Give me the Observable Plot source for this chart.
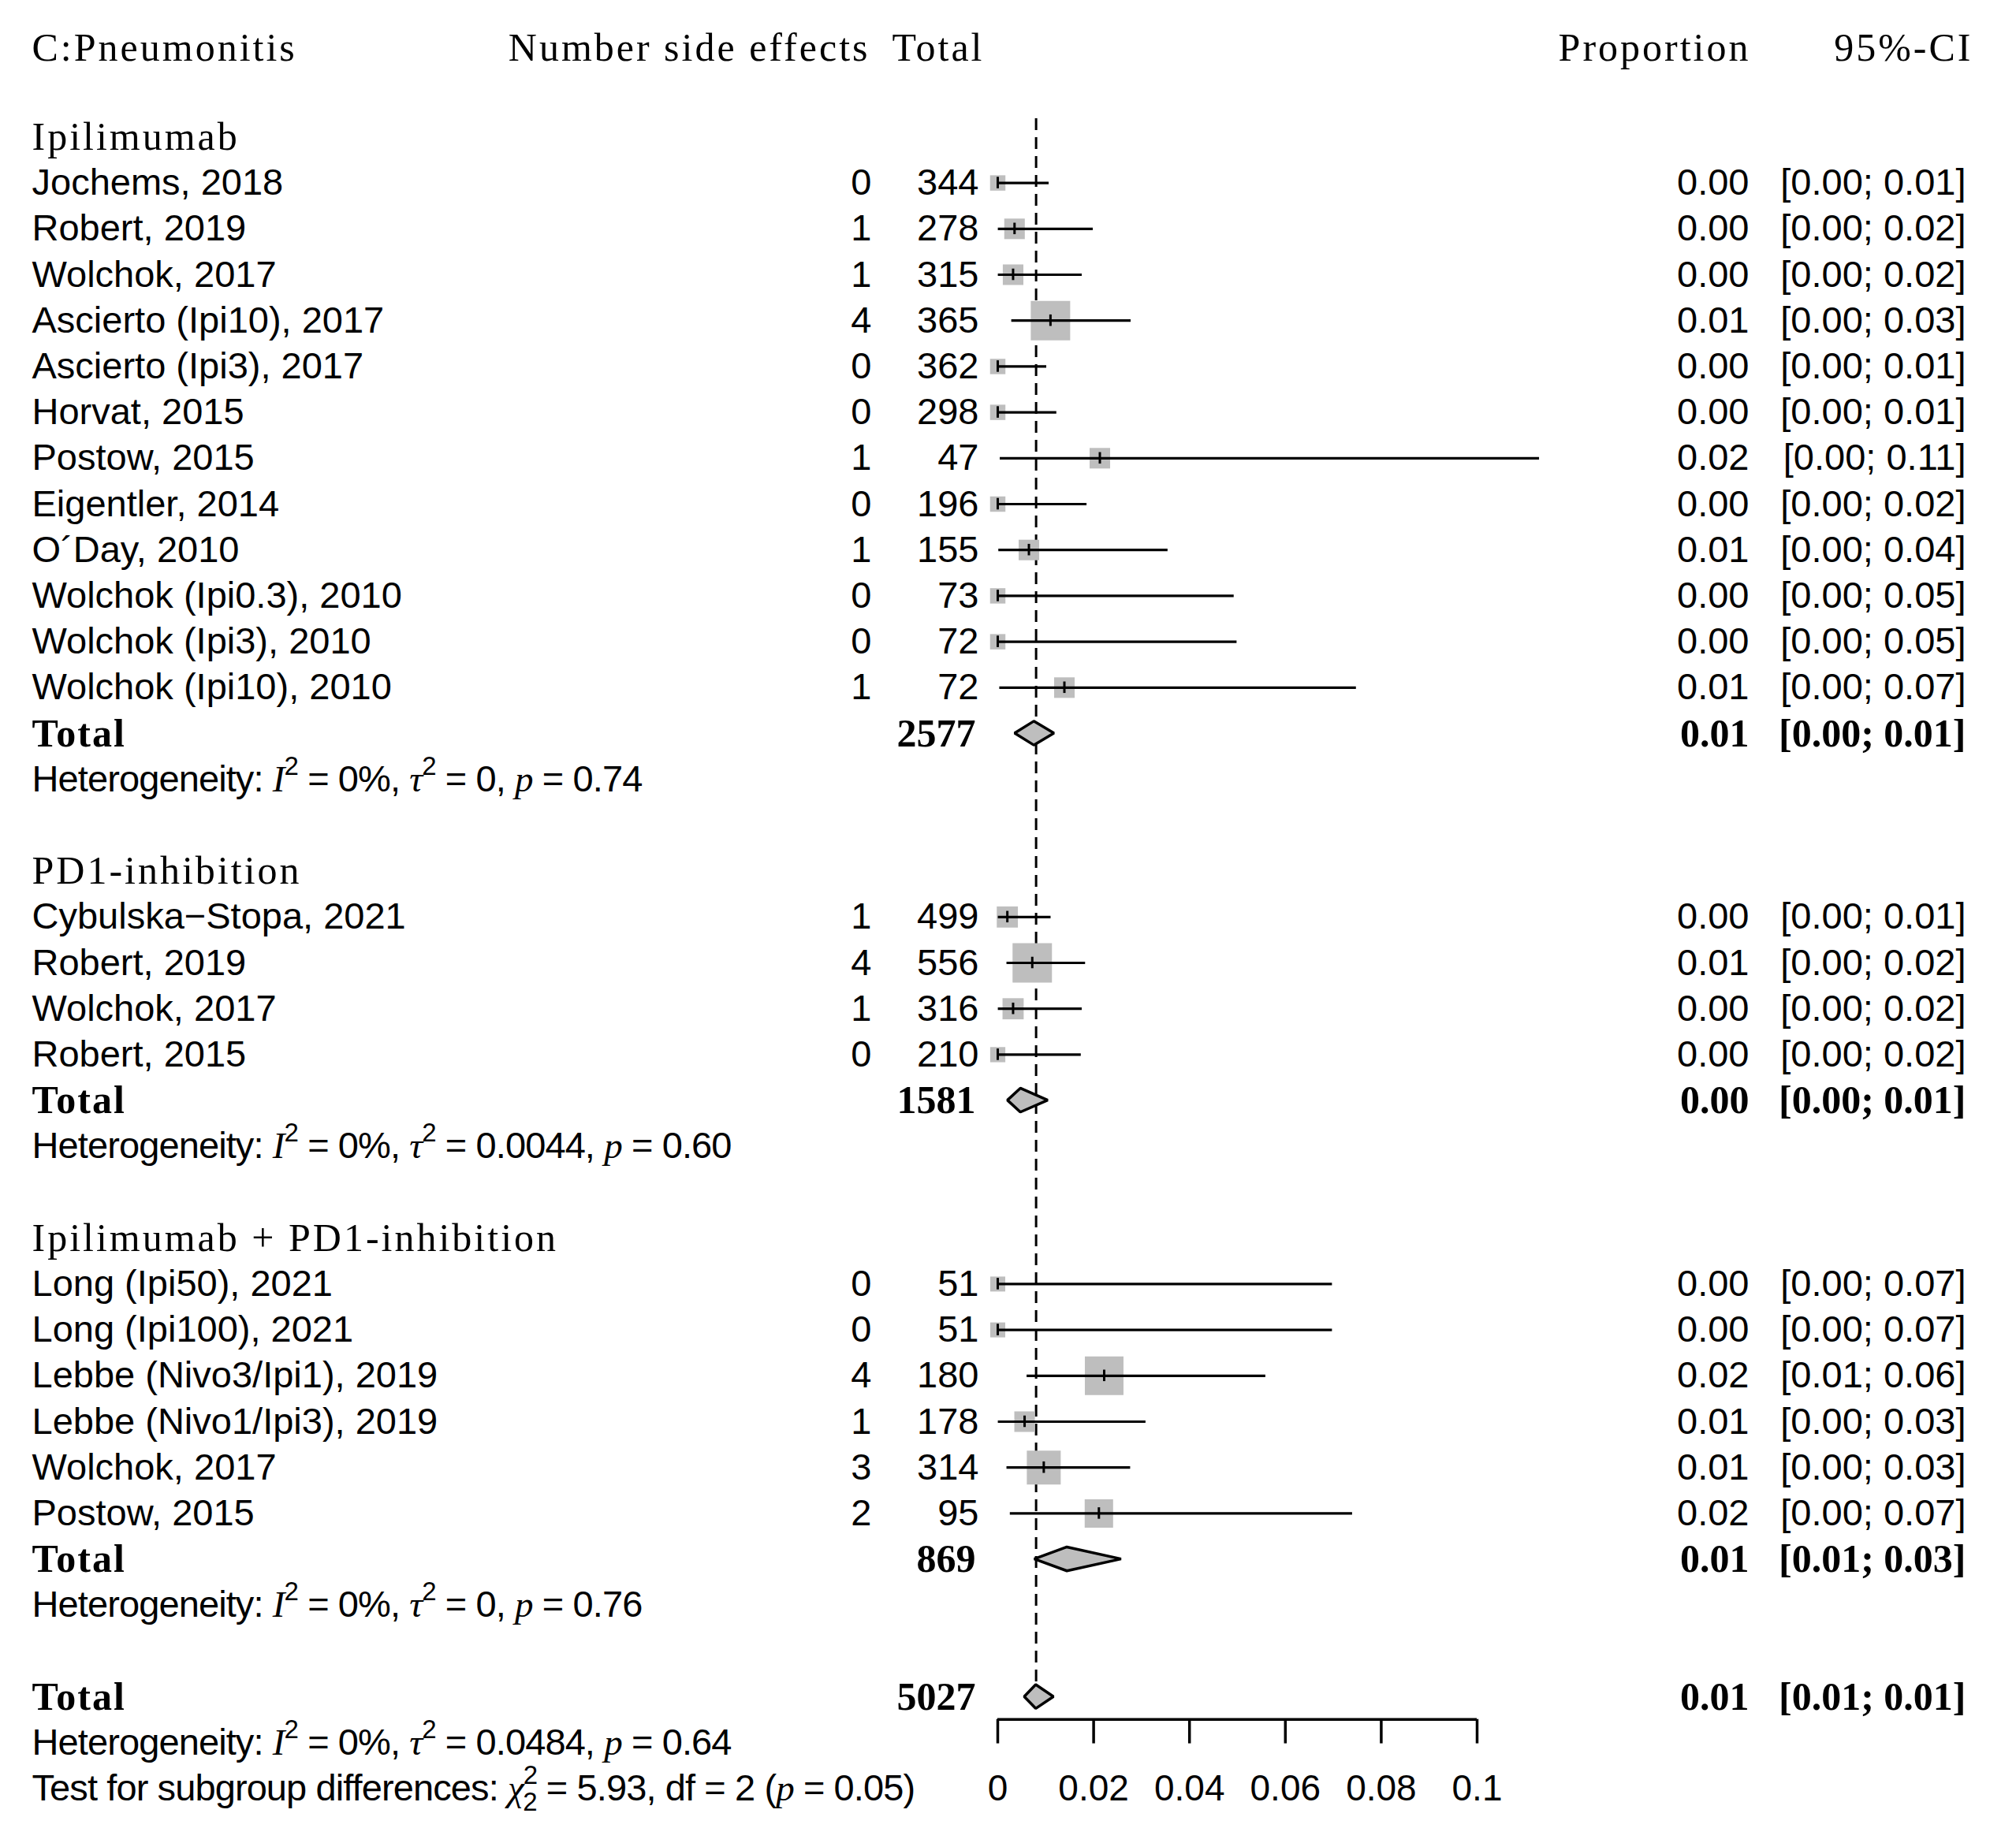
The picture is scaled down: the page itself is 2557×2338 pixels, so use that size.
<!DOCTYPE html>
<html>
<head>
<meta charset="utf-8">
<script src="https://cdn.jsdelivr.net/npm/d3@7"></script>
<script src="https://cdn.jsdelivr.net/npm/@observablehq/plot@0.6"></script>
<style>
  html, body { margin: 0; padding: 0; background: #fff; }
  #chart svg { display: block; }
</style>
</head>
<body>
<div id="chart"></div>
<script>
// ---------------- DATA ----------------
const title = "C:Pneumonitis";
const headerEvents = "Number side effects";
const headerTotal = "Total";
const headerProportion = "Proportion";
const headerCI = "95%-CI";
const summaryLabel = "Total";

const groupNames = ["Ipilimumab", "PD1-inhibition", "Ipilimumab + PD1-inhibition"];

const studyGroup = [0,0,0,0,0,0,0,0,0,0,0,0, 1,1,1,1, 2,2,2,2,2,2];
const studyLabels = [
  "Jochems, 2018", "Robert, 2019", "Wolchok, 2017", "Ascierto (Ipi10), 2017",
  "Ascierto (Ipi3), 2017", "Horvat, 2015", "Postow, 2015", "Eigentler, 2014",
  "O´Day, 2010", "Wolchok (Ipi0.3), 2010", "Wolchok (Ipi3), 2010", "Wolchok (Ipi10), 2010",
  "Cybulska−Stopa, 2021", "Robert, 2019", "Wolchok, 2017", "Robert, 2015",
  "Long (Ipi50), 2021", "Long (Ipi100), 2021", "Lebbe (Nivo3/Ipi1), 2019",
  "Lebbe (Nivo1/Ipi3), 2019", "Wolchok, 2017", "Postow, 2015"
];
const events = [0,1,1,4,0,0,1,0,1,0,0,1, 1,4,1,0, 0,0,4,1,3,2];
const totals = [344,278,315,365,362,298,47,196,155,73,72,72, 499,556,316,210, 51,51,180,178,314,95];
const proportion = [0,0.0035,0.0032,0.0110,0,0,0.0213,0,0.0065,0,0,0.0139,
                    0.0020,0.0072,0.0032,0, 0,0,0.0222,0.0056,0.0096,0.0211];
const lower = [0,0.0001,0.0001,0.0029,0,0,0.0005,0,0.0002,0,0,0.0004,
               0.0001,0.0019,0.0001,0, 0,0,0.0061,0.0001,0.0019,0.0026];
const upper = [0.0107,0.0199,0.0176,0.0278,0.0102,0.0123,0.1130,0.0186,0.0355,0.0493,0.0499,0.0748,
               0.0111,0.0183,0.0176,0.0174, 0.0698,0.0698,0.0559,0.0309,0.0277,0.0740];
const boxWeight = [3.8,6.8,6.8,25,3.8,3.8,6.8,3.8,6.8,3.8,3.8,6.8,
                   7.2,25,7.2,3.7, 3.6,3.6,24,6.8,18.5,13];

const subgroupTotals = [2577, 1581, 869];
const subgroupProportion = [0.0076, 0.0048, 0.0145];
const subgroupLower = [0.0036, 0.0021, 0.0077];
const subgroupUpper = [0.0118, 0.0105, 0.0258];
const subgroupI2 = ["0%", "0%", "0%"];
const subgroupTau2 = ["0", "0.0044", "0"];
const subgroupHetP = ["0.74", "0.60", "0.76"];

const overallTotal = 5027;
const overallProportion = 0.0080;
const overallLower = 0.0056;
const overallUpper = 0.0117;
const overallI2 = "0%";
const overallTau2 = "0.0484";
const overallHetP = "0.64";

const testChi2 = "5.93";
const testDf = "2";
const testP = "0.05";

const xTicks = [0, 0.02, 0.04, 0.06, 0.08, 0.1];
const xTickLabels = ["0", "0.02", "0.04", "0.06", "0.08", "0.1"];

// ---------------- LAYOUT ----------------
const W = 2557, H = 2338;
const ROW_TOP = 57, ROW_H = 58.2, LAST_ROW = 38;
const X0PX = 1265, X1PX = 1873;
const colPx = { label: 40, events: 1105, total: 1241, totalBold: 1237, prop: 2218, ci: 2493,
                headEvents: 1103, headTotal: 1248, headProp: 2220, headCI: 2502 };
const dxOf = px => px - X0PX;
const DIAMOND_HALF = 0.26;
const TICK_HALF = 0.125;
const sansFont = "'Liberation Sans', Arial, sans-serif";
const serifFont = "'Liberation Serif', 'Times New Roman', serif";
const f2 = d3.format(".2f");

const studies = [], groupRows = [], summaries = [], hets = [];
let r = 2;
groupNames.forEach((g, gi) => {
  groupRows.push({ row: r++, label: g });
  studyLabels.forEach((s, i) => {
    if (studyGroup[i] === gi) studies.push({
      row: r++, label: s, events: events[i], total: totals[i],
      est: proportion[i], lo: lower[i], hi: upper[i], w: boxWeight[i]
    });
  });
  summaries.push({ row: r++, total: subgroupTotals[gi], est: subgroupProportion[gi],
                   lo: subgroupLower[gi], hi: subgroupUpper[gi] });
  hets.push({ row: r++, i2: subgroupI2[gi], tau2: subgroupTau2[gi], p: subgroupHetP[gi] });
  r++;
});
const overallRow = r;
summaries.push({ row: r++, total: overallTotal, est: overallProportion, lo: overallLower, hi: overallUpper });
hets.push({ row: r++, i2: overallI2, tau2: overallTau2, p: overallHetP });
const testRow = r;
const axisRow = overallRow + 0.49;
const axisTickEnd = overallRow + 1.02;

const hetText = d => `Heterogeneity: I2 = ${d.i2}, τ2 = ${d.tau2}, p = ${d.p}`;
const hetSegs = d => [
  { t: "Heterogeneity: " }, { t: "I", it: true }, { t: "2", sup: true },
  { t: ` = ${d.i2}, ` }, { t: "τ", it: true }, { t: "2", sup: true },
  { t: ` = ${d.tau2}, ` }, { t: "p", it: true }, { t: ` = ${d.p}` }
];
const testRows = [{ row: testRow }];
const testText = `Test for subgroup differences: χ2 = ${testChi2}, df = ${testDf} (p = ${testP})`;
const testSegs = [
  { t: "Test for subgroup differences: " }, { t: "χ", it: true }, { t: "2", sup: true },
  { t: "2", sub: true, dx: -18 }, { t: ` = ${testChi2}, df = ${testDf} (` },
  { t: "p", it: true }, { t: ` = ${testP})` }
];

const diamondPts = summaries.flatMap((s, i) => [
  { id: i, y: s.row - DIAMOND_HALF, x1: s.est, x2: s.est },
  { id: i, y: s.row, x1: s.lo, x2: s.hi },
  { id: i, y: s.row + DIAMOND_HALF, x1: s.est, x2: s.est }
]);

const headers = [
  { text: title, px: colPx.label, anchor: "start" },
  { text: headerEvents, px: colPx.headEvents, anchor: "end" },
  { text: headerTotal, px: colPx.headTotal, anchor: "end" },
  { text: headerProportion, px: colPx.headProp, anchor: "end" },
  { text: headerCI, px: colPx.headCI, anchor: "end" }
];

const textOpts = (o) => ({ frameAnchor: "left", ...o });

const plot = Plot.plot({
  width: W, height: H,
  marginLeft: X0PX, marginRight: W - X1PX,
  marginTop: ROW_TOP, marginBottom: H - (ROW_TOP + ROW_H * LAST_ROW),
  x: { domain: [0, 0.1], axis: null },
  y: { domain: [0, LAST_ROW], reverse: true, axis: null },
  r: { type: "sqrt", domain: [0, 25], range: [0, 28.2] },
  style: { background: "white", fontFamily: sansFont },
  marks: [
    // reference (dashed) line at pooled estimate
    Plot.ruleX([overallProportion], { x: d => d, y1: groupRows[0].row - 0.4, y2: overallRow - DIAMOND_HALF,
      stroke: "black", strokeWidth: 3, strokeDasharray: "15,9" }),
    // study boxes
    Plot.dot(studies, { x: "est", y: "row", r: "w", symbol: "square", fill: "#bebebe", stroke: "none" }),
    // CI lines
    Plot.ruleY(studies, { y: "row", x1: "lo", x2: "hi", stroke: "black", strokeWidth: 3.2 }),
    // estimate ticks
    Plot.ruleX(studies, { x: "est", y1: d => d.row - TICK_HALF, y2: d => d.row + TICK_HALF, stroke: "black", strokeWidth: 3 }),
    // diamonds
    Plot.areaX(diamondPts, { y: "y", x1: "x1", x2: "x2", z: "id", fill: "#bebebe", stroke: "black", strokeWidth: 3.5, strokeLinejoin: "miter" }),
    // x axis
    Plot.ruleY([axisRow], { y: d => d, x1: xTicks[0], x2: xTicks[xTicks.length - 1], stroke: "black", strokeWidth: 3.5 }),
    Plot.ruleX(xTicks, { x: d => d, y1: axisRow, y2: axisTickEnd, stroke: "black", strokeWidth: 3.5 }),
    Plot.text(xTicks, { x: d => d, y: testRow, text: (d, i) => xTickLabels[i], fontSize: 46, fontFamily: sansFont }),
    // headers
    ...headers.map(h => Plot.text([h], textOpts({ y: 0, dy: 3, text: "text", textAnchor: h.anchor, dx: dxOf(h.px),
      fontSize: 50, fontFamily: serifFont }))),
    // group labels
    Plot.text(groupRows, textOpts({ y: "row", text: "label", textAnchor: "start", dx: dxOf(colPx.label),
      fontSize: 50, fontFamily: serifFont })),
    // study columns
    Plot.text(studies, textOpts({ y: "row", text: "label", textAnchor: "start", dx: dxOf(colPx.label), fontSize: 47, fontFamily: sansFont })),
    Plot.text(studies, textOpts({ y: "row", text: d => String(d.events), textAnchor: "end", dx: dxOf(colPx.events), fontSize: 47, fontFamily: sansFont })),
    Plot.text(studies, textOpts({ y: "row", text: d => String(d.total), textAnchor: "end", dx: dxOf(colPx.total), fontSize: 47, fontFamily: sansFont })),
    Plot.text(studies, textOpts({ y: "row", text: d => f2(d.est), textAnchor: "end", dx: dxOf(colPx.prop), fontSize: 47, fontFamily: sansFont })),
    Plot.text(studies, textOpts({ y: "row", text: d => `[${f2(d.lo)}; ${f2(d.hi)}]`, textAnchor: "end", dx: dxOf(colPx.ci), fontSize: 47, fontFamily: sansFont })),
    // summary rows (bold)
    Plot.text(summaries, textOpts({ y: "row", text: () => summaryLabel, textAnchor: "start", dx: dxOf(colPx.label), fontSize: 50, fontWeight: "bold", fontFamily: serifFont })),
    Plot.text(summaries, textOpts({ y: "row", text: d => String(d.total), textAnchor: "end", dx: dxOf(colPx.totalBold), fontSize: 50, fontWeight: "bold", fontFamily: serifFont })),
    Plot.text(summaries, textOpts({ y: "row", text: d => f2(d.est), textAnchor: "end", dx: dxOf(colPx.prop), fontSize: 50, fontWeight: "bold", fontFamily: serifFont })),
    Plot.text(summaries, textOpts({ y: "row", text: d => `[${f2(d.lo)}; ${f2(d.hi)}]`, textAnchor: "end", dx: dxOf(colPx.ci), fontSize: 50, fontWeight: "bold", fontFamily: serifFont })),
    // heterogeneity + test rows
    Plot.text(hets, textOpts({ y: "row", text: hetText, textAnchor: "start", dx: dxOf(colPx.label), fontSize: 47, fontFamily: sansFont })),
    Plot.text(testRows, textOpts({ y: "row", text: () => testText, textAnchor: "start", dx: dxOf(colPx.label), fontSize: 47, fontFamily: sansFont }))
  ]
});

// ---------- rich text post-processing (italics, super/subscripts, spacing) ----------
const NS = "http://www.w3.org/2000/svg";
function richify(textEl, segs) {
  while (textEl.firstChild) textEl.removeChild(textEl.firstChild);
  textEl.setAttribute("letter-spacing", "-0.9");
  let shift = 0;
  for (const s of segs) {
    const ts = document.createElementNS(NS, "tspan");
    const target = s.sup ? -21 : s.sub ? 13 : 0;
    const dy = target - shift;
    if (dy) ts.setAttribute("dy", dy);
    shift = target;
    if (s.dx) ts.setAttribute("dx", s.dx);
    if (s.it) { ts.setAttribute("font-style", "italic"); ts.setAttribute("font-family", serifFont); }
    if (s.sup || s.sub) ts.setAttribute("font-size", 33);
    ts.textContent = s.t;
    textEl.appendChild(ts);
  }
}
const hetStrings = hets.map(hetText);
const spacedStrings = new Set([title, headerEvents, headerTotal, headerProportion, headerCI, ...groupNames]);
plot.querySelectorAll("text").forEach(t => {
  const s = t.textContent;
  const hi = hetStrings.indexOf(s);
  if (hi >= 0) { richify(t, hetSegs(hets[hi])); return; }
  if (s === testText) { richify(t, testSegs); return; }
  if (spacedStrings.has(s) && t.getAttribute("font-weight") !== "bold") {
    const g = t.closest("g");
    if (g && g.getAttribute("font-weight") !== "bold") t.setAttribute("letter-spacing", "3");
  }
  if (s === summaryLabel) {
    const g = t.closest("g");
    if (g && g.getAttribute("font-weight") === "bold") t.setAttribute("letter-spacing", "2");
  }
});

document.getElementById("chart").appendChild(plot);
</script>
</body>
</html>
